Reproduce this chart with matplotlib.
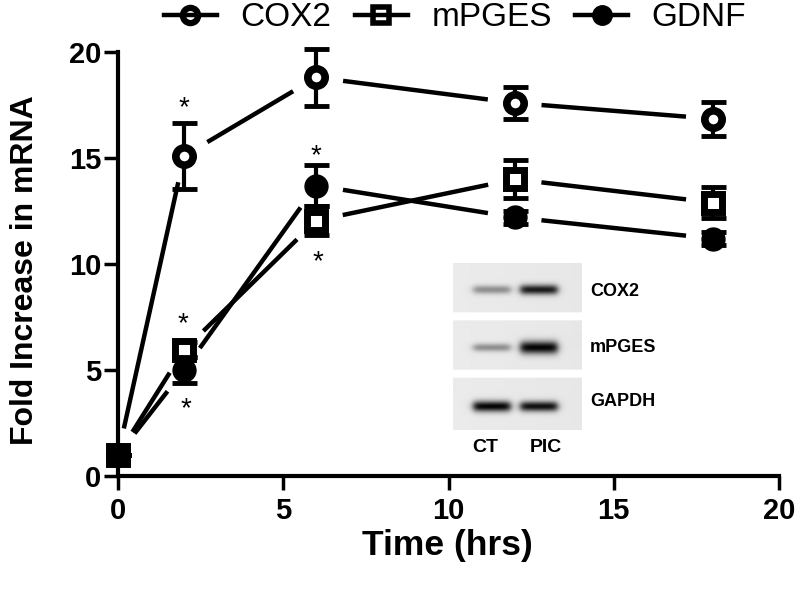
import numpy as np
import matplotlib
matplotlib.use("Agg")
import matplotlib.pyplot as plt
from matplotlib.lines import Line2D
from matplotlib.legend_handler import HandlerTuple

# ---------------- data ----------------
time_hrs = [0, 2, 6, 12, 18]
cox2 = [1.0, 15.1, 18.8, 17.6, 16.85]
cox2_err = [0.0, 1.55, 1.35, 0.75, 0.8]
mpges = [1.0, 5.95, 12.05, 14.0, 12.9]
mpges_err = [0.0, 0.35, 0.7, 0.9, 0.75]
gdnf = [1.0, 5.0, 13.7, 12.2, 11.2]
gdnf_err = [0.0, 0.6, 0.95, 0.3, 0.3]
series_names = ["COX2", "mPGES", "GDNF"]

# significance asterisks (x, y)
star_x = [2.0, 6.0, 6.05, 1.97, 2.05]
star_y = [17.35, 15.1, 10.1, 7.15, 3.15]

x_ticks = [0, 5, 10, 15, 20]
y_ticks = [0, 5, 10, 15, 20]

# inset gel
gel_genes = ["COX2", "mPGES", "GAPDH"]
gel_lanes = ["CT", "PIC"]
band_intensity = [[0.4, 0.9], [0.4, 1.0], [1.0, 0.95]]
band_thickness = [[3.0, 3.5], [2.8, 4.5], [3.8, 3.6]]

# ---------------- figure ----------------
W, H = 800, 591
fig = plt.figure(figsize=(W / 100, H / 100), dpi=100)
L, R, B, T = 118, 779, 476, 52
ax = fig.add_axes([L / W, 1 - B / H, (R - L) / W, (B - T) / H])
ax.set_xlim(0, 20)
ax.set_ylim(0, 20)

for s in ["top", "right"]:
    ax.spines[s].set_visible(False)
for s in ["left", "bottom"]:
    ax.spines[s].set_linewidth(3.0)
ax.set_xticks(x_ticks)
ax.set_yticks(y_ticks)
ax.tick_params(axis="both", direction="out", length=10, width=2.5, labelsize=21)
ax.tick_params(axis="x", pad=5)
ax.tick_params(axis="y", pad=2)
for lab in ax.get_xticklabels() + ax.get_yticklabels():
    lab.set_fontfamily("Liberation Sans")
    lab.set_fontweight("bold")

# gapped connecting lines (GraphPad style)
def gapped_line(xs, ys, gap_px=27, **kw):
    tr = ax.transData
    pts = tr.transform(np.column_stack([xs, ys]))
    inv = tr.inverted()
    for p0, p1 in zip(pts[:-1], pts[1:]):
        d = p1 - p0
        n = np.hypot(*d)
        u = d / n
        a = inv.transform(p0 + u * gap_px)
        b = inv.transform(p1 - u * gap_px)
        ax.plot([a[0], b[0]], [a[1], b[1]], color="black", lw=3.2,
                solid_capstyle="butt", clip_on=False, zorder=2, **kw)

styles = [
    dict(marker="o", ms=12.5, mfc="white", mew=5.5),
    dict(marker="s", ms=12.5, mfc="white", mew=5.0),
    dict(marker="o", ms=16.5, mfc="black", mew=1.0),
]
all_y = [cox2, mpges, gdnf]
all_e = [cox2_err, mpges_err, gdnf_err]

for i, (yv, ev, st) in enumerate(zip(all_y, all_e, styles)):
    gapped_line(time_hrs, yv)
    ax.errorbar(time_hrs, yv, yerr=ev, fmt="none", ecolor="black",
                elinewidth=3.0, capsize=9, capthick=3.5, clip_on=False,
                zorder=3 + 2 * i)
    ax.plot(time_hrs, yv, linestyle="none", color="black", mec="black",
            clip_on=False, zorder=4 + 2 * i, **st)

for sx, sy in zip(star_x, star_y):
    ax.text(sx, sy, "*", ha="center", va="center", fontsize=20,
            fontfamily="Liberation Sans", zorder=10)

# labels
fig.text(25 / W, 1 - 270 / H, "Fold Increase in mRNA", rotation=90,
         ha="center", va="center", fontsize=23, fontweight="bold",
         fontfamily="Liberation Sans")
fig.text(447 / W, 1 - 546 / H, "Time (hrs)", ha="center", va="center",
         fontsize=25.5, fontweight="bold", fontfamily="Liberation Sans")

# legend
handles = []
leg_styles = [
    dict(marker="o", ms=11, mfc="white", mew=4.5),
    dict(marker="s", ms=11, mfc="white", mew=4.0),
    dict(marker="o", ms=14, mfc="black", mew=1.0),
]
for st in leg_styles:
    mk = Line2D([], [], linestyle="none", color="black", mec="black", **st)
    ln = Line2D([], [], color="black", lw=3.2)
    handles.append((mk, ln))
leg = fig.legend(handles, series_names, loc="center", ncol=3,
                 bbox_to_anchor=(455 / W, 1 - 18 / H), frameon=False,
                 handler_map={tuple: HandlerTuple(ndivide=1)},
                 prop={"family": "Liberation Sans", "size": 24},
                 handlelength=1.6, handletextpad=0.7, columnspacing=0.7,
                 borderaxespad=0, borderpad=0)

# inset gel image
gx0, gx1, gy0, gy1 = 453, 582, 263, 430
gax = fig.add_axes([gx0 / W, 1 - gy1 / H, (gx1 - gx0) / W, (gy1 - gy0) / H])
gax.axis("off")
gw, gh = gx1 - gx0, gy1 - gy0
img = np.ones((gh, gw))
panel_tops = [0, 58, 115]
panel_h = [50, 49, 52]
lane_x = [[20, 57], [67, 104]]
yy = np.arange(gh)[:, None]
xx = np.arange(gw)[None, :]
for gi in range(3):
    t0 = panel_tops[gi]
    h = panel_h[gi]
    panel = (yy >= t0) & (yy < t0 + h)
    grad = 0.92 - 0.015 * (xx / gw)
    img = np.where(panel, grad * np.ones_like(img), img)
    cy = t0 + h / 2 + 2
    for li in range(2):
        a, b = lane_x[li]
        prof_x = 1 / (1 + np.exp(-(xx - a) / 2.0)) * 1 / (1 + np.exp((xx - b) / 2.0))
        prof_y = np.exp(-0.5 * ((yy - cy) / band_thickness[gi][li]) ** 2)
        band = band_intensity[gi][li] * prof_x * prof_y
        img = np.where(panel, img - 0.9 * band * np.ones_like(img), img)
img = np.clip(img, 0, 1)
gax.imshow(img, cmap="gray", vmin=0, vmax=1, aspect="auto",
           interpolation="bilinear", extent=(0, gw, gh, 0))
gax.set_xlim(0, gw)
gax.set_ylim(gh, 0)

gene_y = [292, 347, 402]
for g, y in zip(gel_genes, gene_y):
    fig.text(590 / W, 1 - y / H, g, ha="left", va="center", fontsize=13,
             fontweight="bold", fontfamily="Liberation Sans")
lane_cx = [485, 546]
for ln_name, x in zip(gel_lanes, lane_cx):
    fig.text(x / W, 1 - 448 / H, ln_name, ha="center", va="center",
             fontsize=14, fontweight="bold", fontfamily="Liberation Sans")

fig.savefig("out.png", dpi=100)
